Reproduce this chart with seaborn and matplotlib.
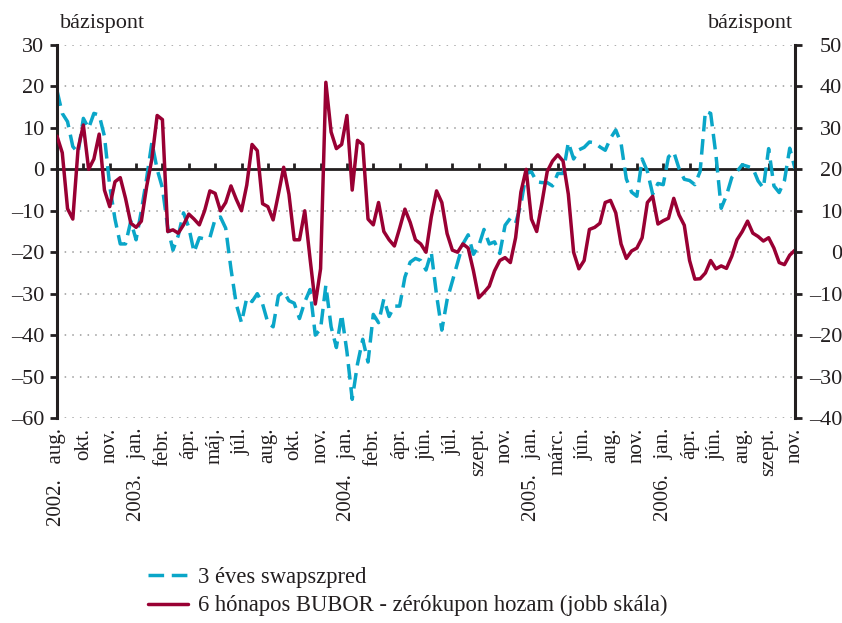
import matplotlib
matplotlib.use('Agg')
import matplotlib.pyplot as plt
import numpy as np
import pandas as pd
import seaborn as sns

# 5 observations between two neighbouring axis labels
obs_per_label = 5

tick_labels = ['2002.   aug.', 'okt.', 'nov.', '2003.   jan.', 'febr.', 'ápr.', 'máj.', 'júl.',
               'aug.', 'okt.', 'nov.', '2004.   jan.', 'febr.', 'ápr.', 'jún.', 'júl.', 'szept.',
               'nov.', '2005.   jan.', 'márc.', 'jún.', 'aug.', 'nov.', '2006.   jan.', 'ápr.',
               'jún.', 'aug.', 'szept.', 'nov.']

# 3 éves swapszpred (bázispont, bal skála)
swap_spread = [19, 13.5, 11.5, 5.5, 4,
               12.3, 9.9, 13.5, 13.1, 8,
               -4, -12, -18, -18, -12.5,
               -17, -10, -2.2, 6.5, 0,
               -4.5, -14, -19.5, -16, -10.5,
               -14, -20, -16.5, -16.8, -16.5,
               -12, -11.5, -14.2, -24, -32.5,
               -37, -31, -31.9, -30, -32.5,
               -37, -38, -30.5, -29.5, -31.7,
               -32.3, -36, -32, -29, -40,
               -38.5, -28, -38, -43, -35,
               -44, -55.5, -47, -41, -46.5,
               -35, -37, -31.3, -35.5, -33,
               -33, -26, -22.4, -21.5, -22,
               -24.3, -20, -30.3, -38.8, -31.5,
               -27, -22.5, -18, -15.8, -20.5,
               -18.5, -14.5, -18, -17.5, -20.3,
               -13.5, -11.8, -13, -8.5, -1,
               -0.6, -3, -3.2, -3.2, -4,
               -1, -1, 6.5, 2.5, 4.7,
               5.3, 6.6, 6.4, 5.4, 4.6,
               7.5, 9.5, 6.3, -2.3, -5.5,
               -6.5, 2.5, -0.5, -6, -3.4,
               -3.7, 3, 4.2, 0.2, -2.4,
               -2.7, -3.7, -0.5, 14, 13.5,
               3.5, -9.4, -6.3, -2, -0.5,
               1.1, 0.7, 0.3, -2.8, -4.5,
               5, -4, -5.6, -2.7, 5.1,
               0.2]

# 6 hónapos BUBOR - zérókupon hozam (bázispont, jobb skála)
bubor_spread = [28, 24, 10.5, 8, 25,
                30.7, 20, 22.5, 28.5, 15,
                11, 17, 18, 13, 7,
                6, 7.5, 15.8, 22.5, 33,
                32, 5, 5.4, 4.6, 6.6,
                9.2, 8, 6.6, 10, 14.8,
                14.2, 10, 12, 16, 12.8,
                10, 16.2, 26, 24.5, 11.7,
                11, 7.8, 14, 20.5, 14,
                3, 3, 10, -1.5, -12.5,
                -4, 41, 29, 25, 26,
                33, 15, 27, 26, 8,
                6.6, 12, 5, 3, 1.5,
                5.8, 10.4, 7.2, 3, 2,
                0, 8.5, 14.8, 12, 4.5,
                0.5, 0, 2, 1, -4.5,
                -11, -9.7, -8.2, -4.5, -2,
                -1.3, -2.5, 3.5, 14.5, 20,
                8, 5, 12, 19.5, 22,
                23.5, 22, 14, 0, -4,
                -2, 5.5, 6, 7, 12,
                12.5, 9.5, 2, -1.5, 0.3,
                1, 3.5, 12, 13.5, 6.8,
                7.6, 8.2, 13, 9, 6.5,
                -2, -6.5, -6.4, -5, -2,
                -4, -3.3, -3.9, -1, 3,
                5, 7.5, 4.6, 3.8, 2.7,
                3.5, 1, -2.5, -3, -0.7,
                0.5]

left_ticks = np.arange(-60, 31, 10)
right_ticks = np.arange(-40, 51, 10)

cyan = '#0aa6c8'
wine = '#990033'

df = pd.DataFrame({'obs': np.arange(len(swap_spread)),
                   'swap': swap_spread,
                   'bubor': bubor_spread})

sns.set_style('white')
plt.rcParams['font.family'] = ['Liberation Serif', 'DejaVu Serif']
plt.rcParams['text.color'] = '#231f20'
plt.rcParams['xtick.color'] = '#231f20'
plt.rcParams['ytick.color'] = '#231f20'

fig = plt.figure(figsize=(8.42, 6.23), dpi=100)
ax = fig.add_axes([57 / 842, 1 - 418 / 623, 738 / 842, 373 / 623])
ax2 = ax.twinx()

# dotted grid and the zero line
for v in left_ticks:
    if v != 0:
        ax.axhline(v, color='#9a9a9a', lw=1.1, ls=(0, (1, 4)), zorder=0)
ax.axhline(0, color='#231f20', lw=2, zorder=1)

sns.lineplot(data=df, x='obs', y='swap', ax=ax, color=cyan, lw=2.5,
             linestyle=(0, (4.5, 2.2)), label='3 éves swapszpred', legend=False)
sns.lineplot(data=df, x='obs', y='bubor', ax=ax2, color=wine, lw=2.5,
             label='6 hónapos BUBOR - zérókupon hozam (jobb skála)', legend=False)

n_last = len(swap_spread) - 1
ax.set_xlim(0, n_last)
ax.set_ylim(-60, 30)
ax2.set_ylim(-40, 50)

xt = np.arange(0, n_last + 1, obs_per_label)
ax.set_xticks(xt)
ax.set_xticklabels(tick_labels, rotation=90, fontsize=15)
ax.tick_params(axis='x', length=0, pad=7)
ax.set_yticks(left_ticks)
ax.set_yticklabels([f'{v}'.replace('-', '–') for v in left_ticks], fontsize=16)
ax.tick_params(axis='y', direction='out', length=5, width=2, pad=4)
ax2.set_yticks(right_ticks)
ax2.set_yticklabels([f'{v}'.replace('-', '–') for v in right_ticks], fontsize=16, ha='right')
ax2.tick_params(axis='y', direction='out', length=5, width=2, pad=29)

# small ticks hanging from the zero line
zero_axis = ax.secondary_xaxis(2 / 3)
zero_axis.set_xticks(xt)
zero_axis.set_xticklabels([])
zero_axis.tick_params(direction='out', length=4, width=2)
zero_axis.spines['bottom'].set_visible(False)

for a in (ax, ax2):
    a.set_xlabel('')
    a.set_ylabel('')
    a.spines['top'].set_visible(False)
    a.spines['bottom'].set_visible(False)
    a.spines['left'].set_linewidth(2.2)
    a.spines['right'].set_linewidth(2.2)
    a.spines['left'].set_color('#231f20')
    a.spines['right'].set_color('#231f20')
ax.spines['right'].set_visible(False)
ax2.spines['left'].set_visible(False)

fig.text(60 / 842, 1 - 28 / 623, 'bázispont', fontsize=16, ha='left', va='baseline')
fig.text(793 / 842, 1 - 28 / 623, 'bázispont', fontsize=16, ha='right', va='baseline')

handles = ax.get_lines()[-1:] + ax2.get_lines()[-1:]
fig.legend(handles=handles, labels=[h.get_label() for h in handles],
           loc='upper left', bbox_to_anchor=(148 / 842, 1 - 567 / 623),
           frameon=False, fontsize=16.3, handlelength=1.75, handletextpad=0.45,
           labelspacing=0.32, borderpad=0, borderaxespad=0)

fig.savefig('out.png', dpi=100)
